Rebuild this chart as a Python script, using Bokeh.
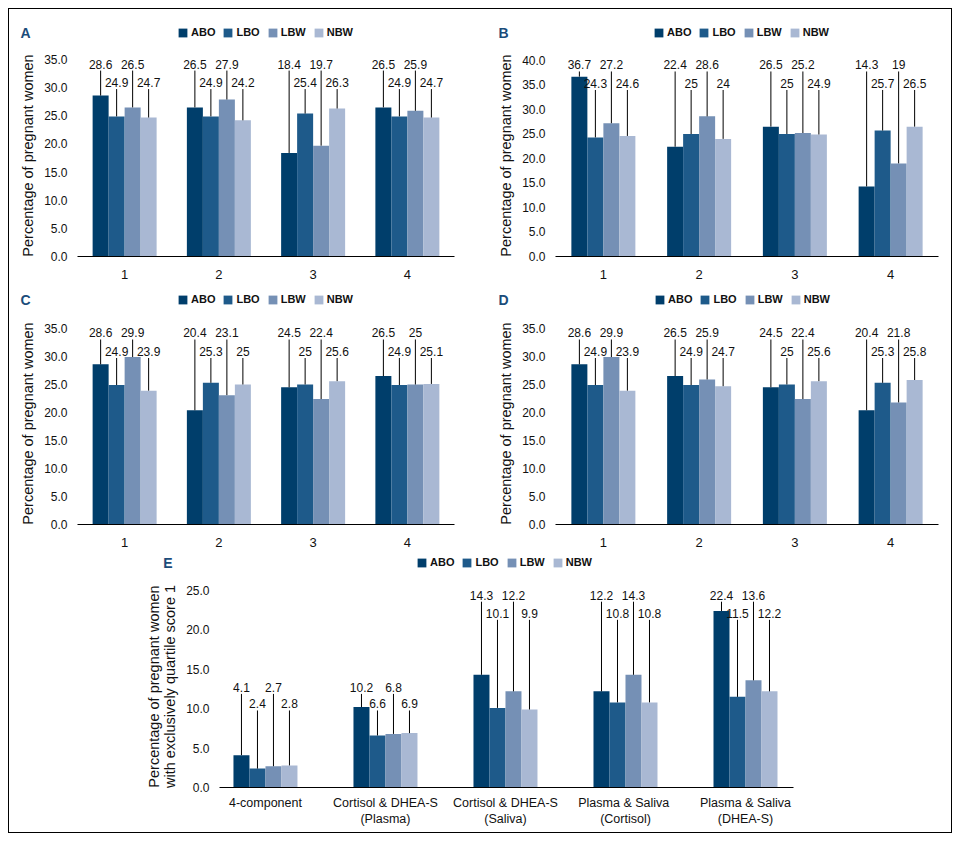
from bokeh.plotting import figure
from bokeh.layouts import row, column
from bokeh.models import Legend, LegendItem, FixedTicker, Range1d, PrintfTickFormatter
from bokeh.core.properties import value
from bokeh.embed import file_html
from bokeh.resources import INLINE

FONT = "Liberation Sans"

series = ["ABO", "LBO", "LBW", "NBW"]
colors = ["#003e6b", "#1e5a8a", "#7590b5", "#a9b8d3"]
letter_color = "#1b4c7a"

quartiles = ["1", "2", "3", "4"]

# panel A
a_abo = [28.6, 26.5, 18.4, 26.5]
a_lbo = [24.9, 24.9, 25.4, 24.9]
a_lbw = [26.5, 27.9, 19.7, 25.9]
a_nbw = [24.7, 24.2, 26.3, 24.7]

# panel B
b_abo = [36.7, 22.4, 26.5, 14.3]
b_lbo = [24.3, 25, 25, 25.7]
b_lbw = [27.2, 28.6, 25.2, 19]
b_nbw = [24.6, 24, 24.9, 26.5]

# panel C
c_abo = [28.6, 20.4, 24.5, 26.5]
c_lbo = [24.9, 25.3, 25, 24.9]
c_lbw = [29.9, 23.1, 22.4, 25]
c_nbw = [23.9, 25, 25.6, 25.1]

# panel D
d_abo = [28.6, 26.5, 24.5, 20.4]
d_lbo = [24.9, 24.9, 25, 25.3]
d_lbw = [29.9, 25.9, 22.4, 21.8]
d_nbw = [23.9, 24.7, 25.6, 25.8]

# panel E
e_groups = ["4-component", "Cortisol & DHEA-S\n(Plasma)", "Cortisol & DHEA-S\n(Saliva)",
            "Plasma &  Saliva\n(Cortisol)", "Plasma & Saliva\n(DHEA-S)"]
e_abo = [4.1, 10.2, 14.3, 12.2, 22.4]
e_lbo = [2.4, 6.6, 10.1, 10.8, 11.5]
e_lbw = [2.7, 6.8, 12.2, 14.3, 13.6]
e_nbw = [2.8, 6.9, 9.9, 10.8, 12.2]

# where the value callouts sit in panel E (two staggered rows)
e_hi = [12.7, 12.7, 24.4, 24.4, 24.4]
e_lo = [10.6, 10.6, 22.1, 22.1, 22.1]

BAR_PX = 16


def header(letter, h, letter_y, legend_xy, left, frame_w, right):
    # strip above each panel: panel letter (as the lone y tick label) + legend
    p = figure(frame_width=frame_w, frame_height=h, x_range=Range1d(0, 1), y_range=Range1d(0, h),
               x_axis_type=None, output_backend="svg", toolbar_location=None,
               min_border_left=left, min_border_right=right,
               min_border_top=0, min_border_bottom=0)
    p.outline_line_color = None
    p.xgrid.visible = False
    p.ygrid.visible = False
    ya = p.yaxis[0]
    ya.ticker = FixedTicker(ticks=[letter_y])
    ya.major_label_overrides = {letter_y: letter}
    ya.axis_line_color = None
    ya.major_tick_line_color = None
    ya.minor_tick_line_color = None
    ya.major_label_standoff = 41
    ya.major_label_text_font = FONT
    ya.major_label_text_font_size = "14px"
    ya.major_label_text_font_style = "bold"
    ya.major_label_text_color = letter_color

    items = []
    for name, col in zip(series, colors):
        # zero-height bar, only there to give the legend its swatch
        r = p.vbar(x=[0], top=[0], width=0, fill_color=col, line_color=None)
        items.append(LegendItem(label=name, renderers=[r]))
    p.add_layout(Legend(items=items, orientation="horizontal", location=legend_xy,
                        glyph_width=11, glyph_height=11, label_standoff=3, spacing=7,
                        padding=0, margin=0, label_width=0, label_height=11,
                        border_line_color=None, background_fill_alpha=0,
                        label_text_font=FONT, label_text_font_size="11px",
                        label_text_font_style="bold", label_text_color="#111111"))
    return p


def panel(cats, vals, ymax, y_end, frame_w, frame_h, x_start, x_end,
          left, right, top, bottom, ylabel, hi=None, lo=None,
          xfont="13px", xstandoff=7, ylstandoff=5):
    spacing = frame_w / (x_end - x_start)
    scale = frame_h / y_end
    n = len(cats)
    if hi is None:
        hi = [ymax - 4.5 / scale] * n
        lo = [ymax - 23 / scale] * n

    p = figure(frame_width=frame_w, frame_height=frame_h,
               x_range=Range1d(x_start, x_end), y_range=Range1d(0, y_end),
               output_backend="svg", toolbar_location=None,
               min_border_left=left, min_border_right=right,
               min_border_top=top, min_border_bottom=bottom)
    p.outline_line_color = None
    p.xgrid.visible = False
    p.ygrid.visible = False

    xs, ys, lys, ends, txt = [], [], [], [], []
    for k in range(4):
        off = (k - 1.5) * BAR_PX / spacing
        x = [g + 1 + off for g in range(n)]
        p.vbar(x=x, top=vals[k], width=BAR_PX / spacing,
               fill_color=colors[k], line_color=None)
        rows = hi if k % 2 == 0 else lo
        for g in range(n):
            xs.append(x[g])
            ys.append(vals[k][g])
            lys.append(rows[g])
            ends.append(rows[g] - 6.5 / scale)
            txt.append(f"{vals[k][g]:g}")

    p.segment(x0=xs, y0=ys, x1=xs, y1=ends, line_color="black", line_width=1)
    p.text(x=xs, y=lys, text=txt, text_align="center", text_baseline="middle",
           text_font=value(FONT), text_font_size="12px", text_color="#111111")

    xa = p.xaxis[0]
    xa.ticker = FixedTicker(ticks=list(range(1, n + 1)))
    xa.major_label_overrides = {i + 1: c for i, c in enumerate(cats)}
    xa.axis_line_color = "black"
    xa.axis_line_width = 1
    xa.major_tick_line_color = None
    xa.minor_tick_line_color = None
    xa.major_label_standoff = xstandoff
    xa.major_label_text_font = FONT
    xa.major_label_text_font_size = xfont
    xa.major_label_text_color = "#111111"

    ya = p.yaxis[0]
    ya.ticker = FixedTicker(ticks=list(range(0, ymax + 1, 5)))
    ya.formatter = PrintfTickFormatter(format="%.1f")
    ya.axis_line_color = None
    ya.major_tick_line_color = None
    ya.minor_tick_line_color = None
    ya.major_label_standoff = 4
    ya.major_label_text_font = FONT
    ya.major_label_text_font_size = "12px"
    ya.major_label_text_color = "#111111"
    ya.axis_label = ylabel
    ya.axis_label_text_font = FONT
    ya.axis_label_text_font_size = "14.5px"
    ya.axis_label_text_font_style = "normal"
    ya.axis_label_text_line_height = 1.0
    ya.axis_label_text_color = "#111111"
    ya.axis_label_standoff = ylstandoff
    return p


YL = "Percentage of pregnant women"

ha = header("A", 40, 17, (100, 11), 68, 377, 26)
pa = panel(quartiles, [a_abo, a_lbo, a_lbw, a_nbw], 35, 35.9, 377, 202, 0.5, 4.5,
           68, 26, 5, 27, YL)
hb = header("B", 40, 17, (98, 11), 75, 383, 13)
pb = panel(quartiles, [b_abo, b_lbo, b_lbw, b_nbw], 40, 41.22, 383, 202, 0.5, 4.5,
           75, 13, 5, 27, YL)
hc = header("C", 35, 19, (100, 13), 68, 377, 26)
pc = panel(quartiles, [c_abo, c_lbo, c_lbw, c_nbw], 35, 36.07, 377, 202, 0.5, 4.5,
           68, 26, 4, 27, YL)
hd = header("D", 35, 19, (99, 13), 75, 383, 13)
pd = panel(quartiles, [d_abo, d_lbo, d_lbw, d_nbw], 35, 36.07, 383, 202, 0.5, 4.5,
           75, 13, 4, 27, YL)
he = header("E", 29, 18, (197, 12), 210, 574, 158)
pe = panel(e_groups, [e_abo, e_lbo, e_lbw, e_nbw], 25, 25.63, 574, 202, 0.617, 5.4,
           210, 158, 5, 45, YL + "\nwith exclusively quartile score 1",
           hi=e_hi, lo=e_lo, xfont="12.5px", xstandoff=2, ylstandoff=5)

layout = column(row(column(ha, pa), column(hb, pb)),
                row(column(hc, pc), column(hd, pd)),
                column(he, pe),
                styles={"border": "1px solid #000", "margin": "8px 0 0 8px"})

open("out.html", "w").write(file_html(layout, INLINE))
